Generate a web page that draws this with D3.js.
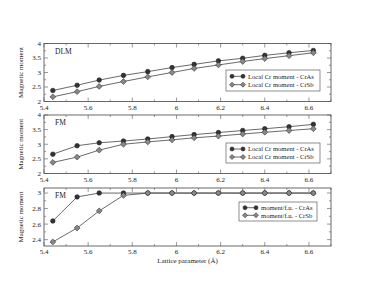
<!DOCTYPE html>
<html>
<head>
<meta charset="utf-8">
<script src="https://cdn.jsdelivr.net/npm/d3@7/dist/d3.min.js"></script>
<style>
  body { margin: 0; background: #fff; }
  svg text { font-family: "Liberation Serif", "DejaVu Serif", serif; fill: #222; }
</style>
</head>
<body>
<script>
// lattice parameter (Å)
const lattice = [5.44, 5.55, 5.65, 5.76, 5.87, 5.98, 6.08, 6.19, 6.30, 6.40, 6.51, 6.62];

// DLM local Cr moments
const dlmCrAs = [2.38, 2.56, 2.74, 2.90, 3.03, 3.17, 3.28, 3.40, 3.49, 3.59, 3.68, 3.76];
const dlmCrSb = [2.16, 2.34, 2.52, 2.69, 2.85, 3.00, 3.14, 3.26, 3.38, 3.48, 3.58, 3.68];

// FM local Cr moments
const fmCrAs = [2.66, 2.95, 3.05, 3.11, 3.18, 3.26, 3.33, 3.40, 3.47, 3.53, 3.60, 3.68];
const fmCrSb = [2.38, 2.56, 2.80, 3.00, 3.08, 3.15, 3.22, 3.28, 3.35, 3.41, 3.47, 3.53];

// FM moment per formula unit
const fuCrAs = [2.64, 2.95, 3.00, 3.00, 3.00, 3.00, 3.00, 3.00, 3.00, 3.00, 3.00, 3.00];
const fuCrSb = [2.37, 2.55, 2.77, 2.97, 3.00, 3.00, 3.00, 3.00, 3.00, 3.00, 3.00, 3.00];

const xTicks = [5.4, 5.6, 5.8, 6, 6.2, 6.4, 6.6];

const WIDTH = 374, HEIGHT = 289;
const LEFT = 44, RIGHT = 331;

const svg = d3.select("body").append("svg")
    .attr("width", WIDTH)
    .attr("height", HEIGHT);

const x = d3.scaleLinear().domain([5.4, 6.7]).range([LEFT, RIGHT]);

const panels = [
    {tag: "DLM", top: 43.5, bottom: 101.5, dom: [2, 4], major: 0.5, minor: 0.25,
     a: dlmCrAs, b: dlmCrSb,
     names: ["Local Cr moment - CrAs", "Local Cr moment - CrSb"],
     legend: {x: 226, y: 70, w: 94, h: 21}},
    {tag: "FM", top: 115, bottom: 173.5, dom: [2, 4], major: 0.5, minor: 0.25,
     a: fmCrAs, b: fmCrSb,
     names: ["Local Cr moment - CrAs", "Local Cr moment - CrSb"],
     legend: {x: 226, y: 143, w: 94, h: 20}},
    {tag: "FM", top: 188, bottom: 246, dom: [2.318, 3.065], major: 0.2, minor: 0.1,
     a: fuCrAs, b: fuCrSb,
     names: ["moment/f.u. - CrAs", "moment/f.u. - CrSb"],
     legend: {x: 239, y: 202, w: 78, h: 19}}
];

function range(lo, hi, step) {
    const out = [];
    const n = Math.round((hi - lo) / step);
    for (let i = 0; i <= n; i++) out.push(+(lo + i * step).toFixed(4));
    return out;
}

function diamond(g, cx, cy, r, fill) {
    g.append("path")
        .attr("d", `M${cx},${cy - r}L${cx + r},${cy}L${cx},${cy + r}L${cx - r},${cy}Z`)
        .attr("fill", fill)
        .attr("stroke", "#333")
        .attr("stroke-width", 0.6);
}

function dot(g, cx, cy, r, fill) {
    g.append("circle")
        .attr("cx", cx).attr("cy", cy).attr("r", r)
        .attr("fill", fill)
        .attr("stroke", "#222")
        .attr("stroke-width", 0.6);
}

panels.forEach(p => {
    const y = d3.scaleLinear().domain(p.dom).range([p.bottom, p.top]);
    const g = svg.append("g");

    // frame
    g.append("rect")
        .attr("x", LEFT).attr("y", p.top)
        .attr("width", RIGHT - LEFT).attr("height", p.bottom - p.top)
        .attr("fill", "none").attr("stroke", "#444").attr("stroke-width", 0.8);

    // x ticks (inward, top and bottom)
    const xMinor = range(5.4, 6.7, 0.1);
    xMinor.forEach(v => {
        const isMajor = xTicks.some(t => Math.abs(t - v) < 1e-6);
        const len = isMajor ? 4 : 2;
        const px = x(v);
        g.append("line").attr("x1", px).attr("x2", px)
            .attr("y1", p.bottom).attr("y2", p.bottom - len)
            .attr("stroke", "#555").attr("stroke-width", 0.6);
        g.append("line").attr("x1", px).attr("x2", px)
            .attr("y1", p.top).attr("y2", p.top + len)
            .attr("stroke", "#555").attr("stroke-width", 0.6);
    });
    xTicks.forEach(t => {
        g.append("text")
            .attr("x", x(t)).attr("y", p.bottom + 8)
            .attr("text-anchor", "middle")
            .attr("font-size", 7)
            .text(t);
    });

    // y ticks (inward, left and right)
    const lo = Math.ceil(p.dom[0] / p.minor - 1e-6) * p.minor;
    range(lo, p.dom[1], p.minor).filter(v => v <= p.dom[1]).forEach(v => {
        const r = v / p.major;
        const isMajor = Math.abs(r - Math.round(r)) < 1e-6;
        const len = isMajor ? 4 : 2;
        const py = y(v);
        g.append("line").attr("x1", LEFT).attr("x2", LEFT + len)
            .attr("y1", py).attr("y2", py)
            .attr("stroke", "#555").attr("stroke-width", 0.6);
        g.append("line").attr("x1", RIGHT).attr("x2", RIGHT - len)
            .attr("y1", py).attr("y2", py)
            .attr("stroke", "#555").attr("stroke-width", 0.6);
        if (isMajor) {
            g.append("text")
                .attr("x", LEFT - 3).attr("y", py + 2.4)
                .attr("text-anchor", "end")
                .attr("font-size", 7)
                .text(d3.format("~g")(+v.toFixed(2)));
        }
    });

    // y label
    g.append("text")
        .attr("transform", `translate(23,${(p.top + p.bottom) / 2}) rotate(-90)`)
        .attr("text-anchor", "middle")
        .attr("font-size", 7)
        .text("Magnetic moment");

    // panel tag
    g.append("text")
        .attr("x", 55).attr("y", p.top + 10)
        .attr("font-size", 7.5)
        .text(p.tag);

    // series
    const line = d3.line().x((d, i) => x(lattice[i])).y(d => y(d));
    [p.a, p.b].forEach(s => {
        g.append("path").datum(s)
            .attr("d", line)
            .attr("fill", "none")
            .attr("stroke", "#444")
            .attr("stroke-width", 0.8);
    });
    p.a.forEach((v, i) => dot(g, x(lattice[i]), y(v), 2.3, "#333"));
    p.b.forEach((v, i) => diamond(g, x(lattice[i]), y(v), 2.9, "#888"));

    // legend
    const L = p.legend;
    g.append("rect")
        .attr("x", L.x).attr("y", L.y).attr("width", L.w).attr("height", L.h)
        .attr("fill", "#fff").attr("stroke", "#444").attr("stroke-width", 0.6);
    [0, 1].forEach(k => {
        const ly = L.y + L.h * (k === 0 ? 0.3 : 0.7);
        g.append("line")
            .attr("x1", L.x + 6).attr("x2", L.x + 17)
            .attr("y1", ly).attr("y2", ly)
            .attr("stroke", "#444").attr("stroke-width", 0.8);
        if (k === 0) {
            dot(g, L.x + 6, ly, 2.0, "#333");
            dot(g, L.x + 17, ly, 2.0, "#333");
        } else {
            diamond(g, L.x + 6, ly, 2.5, "#888");
            diamond(g, L.x + 17, ly, 2.5, "#888");
        }
        g.append("text")
            .attr("x", L.x + 22).attr("y", ly + 2.3)
            .attr("font-size", 6.6)
            .text(p.names[k]);
    });
});

svg.append("text")
    .attr("x", (LEFT + RIGHT) / 2).attr("y", 263)
    .attr("text-anchor", "middle")
    .attr("font-size", 7)
    .text("Lattice parameter (Å)");
</script>
</body>
</html>
